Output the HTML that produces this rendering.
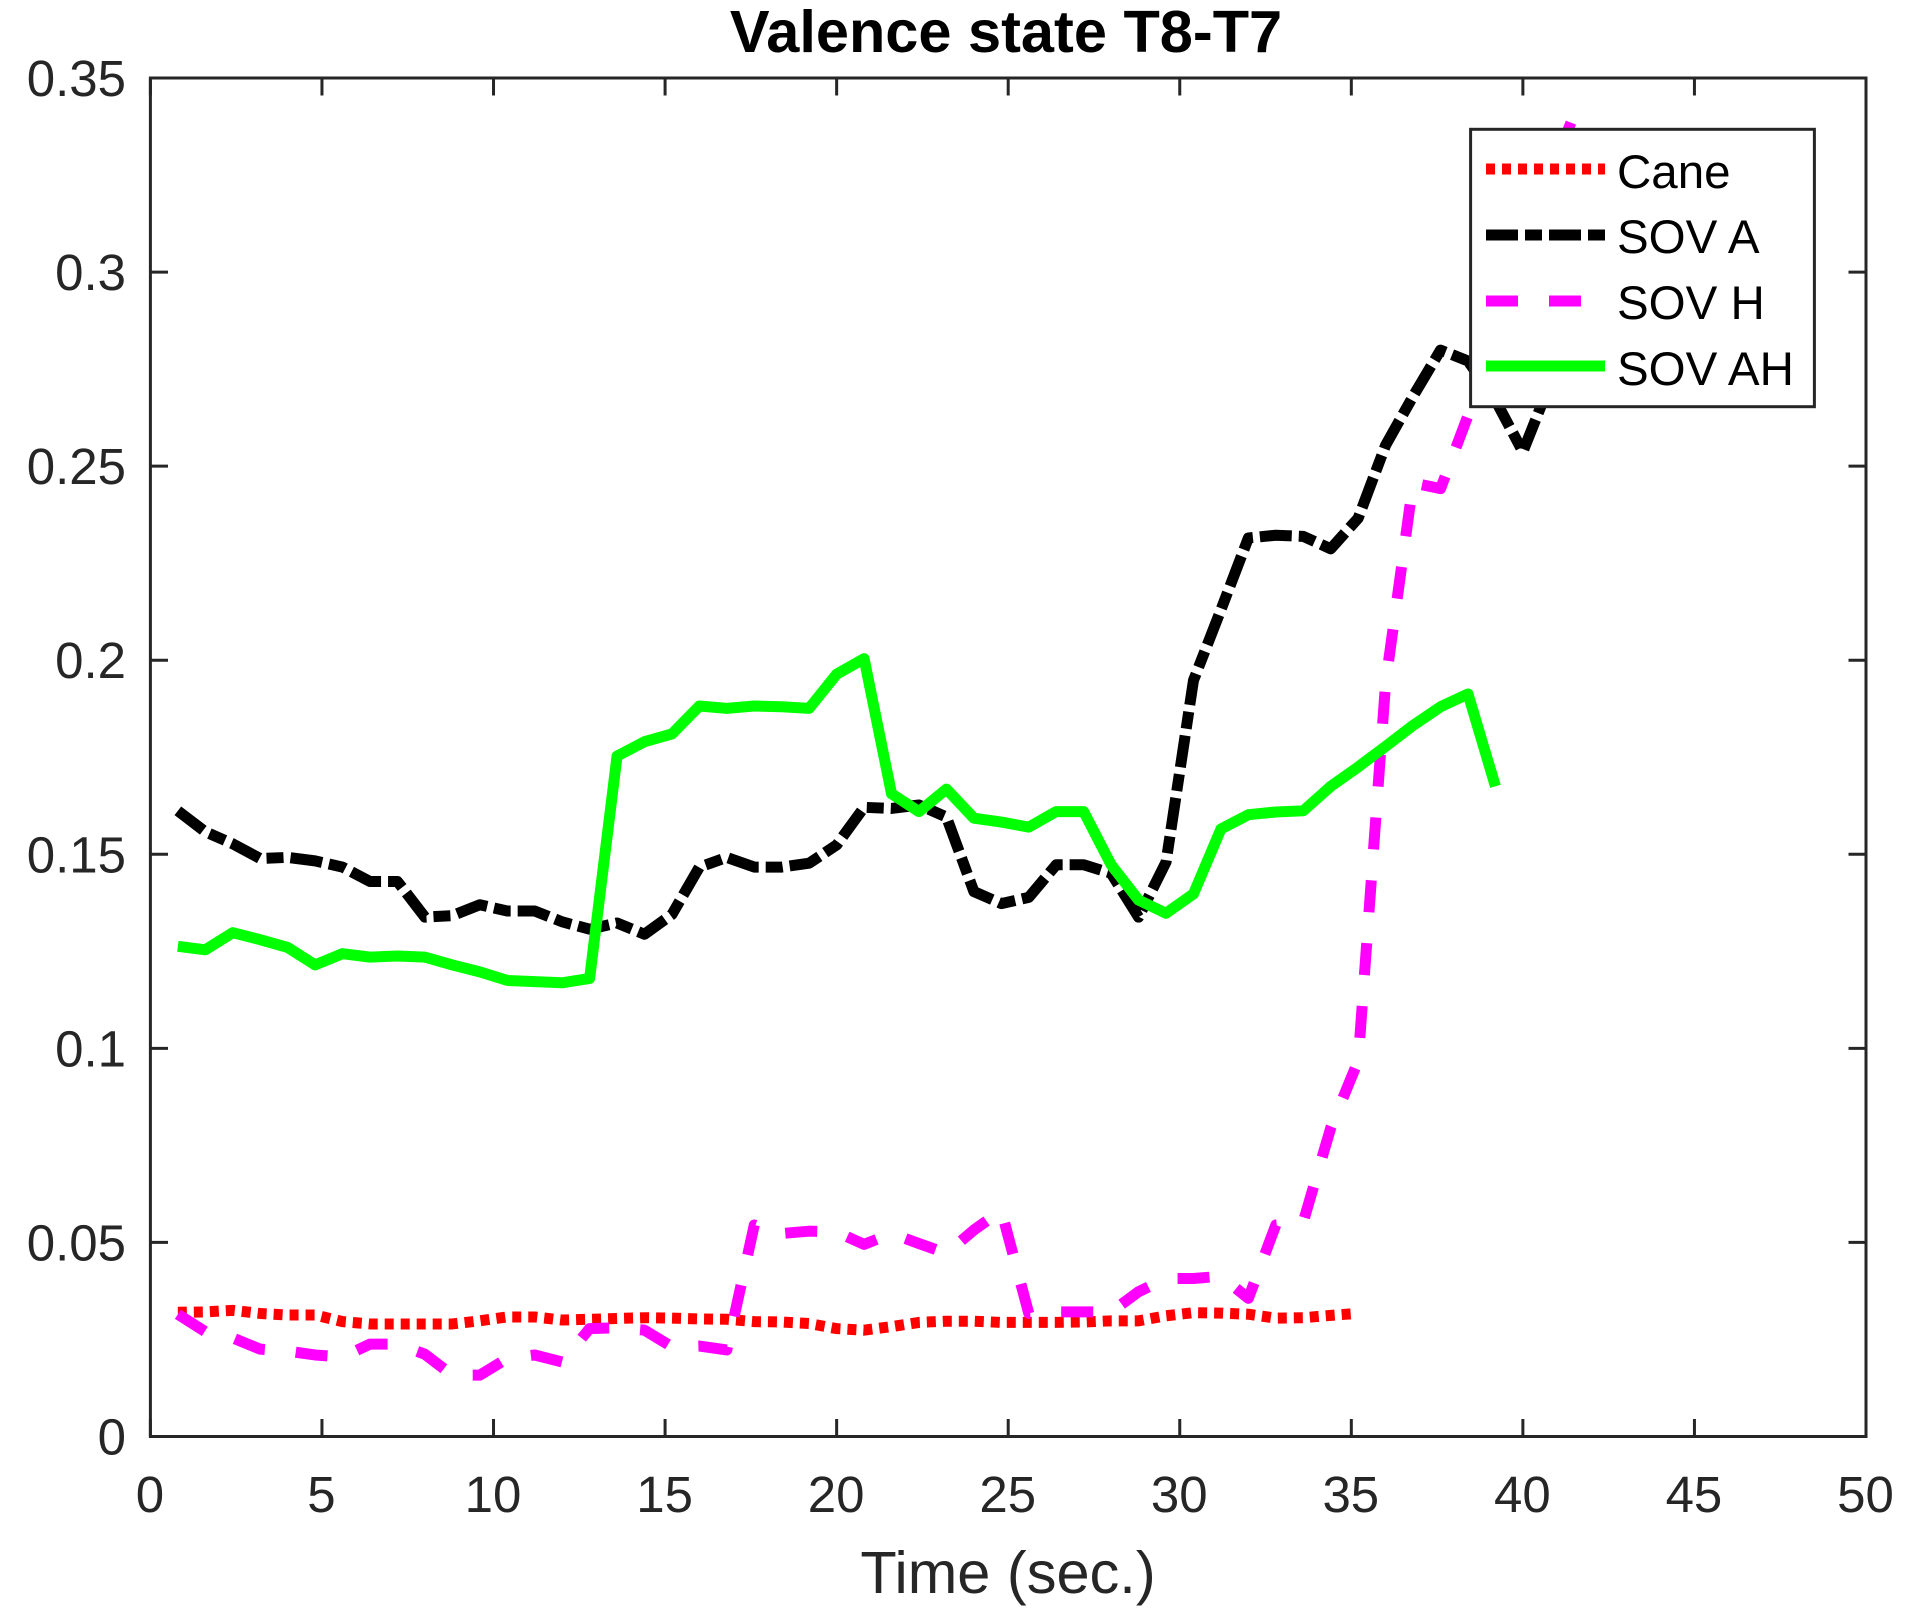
<!DOCTYPE html>
<html lang="en">
<head>
<meta charset="utf-8">
<title>Valence state T8-T7</title>
<style>
html,body{margin:0;padding:0;background:#fff;}
#chart{display:block;width:1912px;height:1620px;font-family:"Liberation Sans",Arial,sans-serif;}
</style>
</head>
<body>
<svg id="chart" xmlns="http://www.w3.org/2000/svg" width="1912" height="1620" viewBox="0 0 1912 1620">
  <defs><clipPath id="plot-clip"><rect x="150.4" y="78" width="1715.6" height="1358.5"/></clipPath></defs>
  <rect x="0" y="0" width="1912" height="1620" fill="#ffffff"/>
  <g id="series-layer" clip-path="url(#plot-clip)"></g>
  <g id="axis-layer"></g>
  <text x="1006" y="52" text-anchor="middle" font-size="59.5" font-weight="bold" fill="#000">Valence state T8-T7</text>
  <text x="1008" y="1593" text-anchor="middle" font-size="59.5" fill="#262626">Time (sec.)</text>
  <g>
    <rect x="1470.6" y="129.3" width="343.8" height="277.4" fill="#fff" stroke="#262626" stroke-width="3"/>
    <g>
      <line x1="1486" x2="1605" y1="169" y2="169" stroke="#ff0000" stroke-width="11" stroke-dasharray="9 7"/>
      <text x="1617" y="188" font-size="47.5" fill="#000">Cane</text>
    </g>
    <g>
      <line x1="1486" x2="1605" y1="235" y2="235" stroke="#000" stroke-width="11" stroke-dasharray="32 7 17 7"/>
      <text x="1617" y="253" font-size="47.5" fill="#000">SOV A</text>
    </g>
    <g>
      <line x1="1486" x2="1605" y1="301" y2="301" stroke="#ff00ff" stroke-width="11" stroke-dasharray="32 31"/>
      <text x="1617" y="319" font-size="47.5" fill="#000">SOV H</text>
    </g>
    <g>
      <line x1="1486" x2="1605" y1="366" y2="366" stroke="#00ff00" stroke-width="11"/>
      <text x="1617" y="385" font-size="47.5" fill="#000">SOV AH</text>
    </g>
  </g>
</svg>
<script>
var xTickValues = [0,5,10,15,20,25,30,35,40,45,50];
var xTickLabels = ["0","5","10","15","20","25","30","35","40","45","50"];
var yTickValues = [0,0.05,0.1,0.15,0.2,0.25,0.3,0.35];
var yTickLabels = ["0","0.05","0.1","0.15","0.2","0.25","0.3","0.35"];

var timeSec = [0.8,1.6,2.4,3.2,4,4.8,5.6,6.4,7.2,8,8.8,9.6,10.4,11.2,12,12.8,13.6,14.4,15.2,16,16.8,17.6,18.4,19.2,20,20.8,21.6,22.4,23.2,24,24.8,25.6,26.4,27.2,28,28.8,29.6,30.4,31.2,32,32.8,33.6,34.4,35.2,36,36.8,37.6,38.4,39.2,40,40.8,41.4,42.4,43.2,44,44.8,45.5];
var caneTime = [0.8,1.6,2.4,3.2,4,4.8,5.6,6.4,7.2,8,8.8,9.6,10.4,11.2,12,12.8,13.6,14.4,15.2,16,16.8,17.6,18.4,19.2,20,20.8,21.6,22.4,23.2,24,24.8,25.6,26.4,27.2,28,28.8,29.6,30.4,31.2,32,32.8,33.6,34.4,35];

var caneValues = [0.032,0.0321,0.0325,0.0317,0.0313,0.0313,0.0296,0.029,0.029,0.029,0.029,0.0298,0.0308,0.0308,0.03,0.0302,0.0304,0.0306,0.0305,0.0303,0.0302,0.0296,0.0295,0.0291,0.0278,0.0274,0.0283,0.0294,0.0297,0.0297,0.0294,0.0294,0.0294,0.0295,0.0298,0.0298,0.0311,0.0319,0.0318,0.0315,0.0305,0.0306,0.0312,0.0316];
var sovAValues = [0.1612,0.1558,0.1527,0.1489,0.1492,0.1483,0.1467,0.143,0.143,0.1338,0.1342,0.137,0.1354,0.1354,0.1326,0.1307,0.1323,0.1294,0.1345,0.1467,0.1492,0.1467,0.1467,0.1477,0.1524,0.1621,0.1618,0.1627,0.1596,0.1404,0.1373,0.1389,0.1473,0.1473,0.1451,0.1338,0.148,0.1948,0.213,0.2315,0.2322,0.2319,0.2287,0.2366,0.2554,0.268,0.2799,0.2771,0.267,0.2537,0.2715,0.29,0.3,0.31,0.3,0.28,0.2645];
var sovHValues = [0.0315,0.027,0.0254,0.0225,0.022,0.021,0.0205,0.0238,0.0238,0.0212,0.0158,0.0158,0.0201,0.021,0.0192,0.0278,0.028,0.0274,0.0231,0.0233,0.0223,0.0545,0.0523,0.0529,0.0527,0.0495,0.0523,0.0497,0.0472,0.0532,0.0582,0.0317,0.0321,0.0321,0.0321,0.0373,0.0407,0.0407,0.0413,0.0356,0.0545,0.0553,0.0795,0.0968,0.1942,0.2457,0.2442,0.263,0.2844,0.3048,0.325,0.3385];
var sovAHValues = [0.1263,0.1254,0.1298,0.128,0.126,0.1215,0.1244,0.1235,0.1238,0.1235,0.1215,0.1197,0.1175,0.1172,0.1169,0.118,0.1753,0.179,0.181,0.1882,0.1876,0.1882,0.188,0.1876,0.1964,0.2004,0.1656,0.161,0.1668,0.1593,0.1583,0.157,0.161,0.161,0.1473,0.1382,0.1348,0.1398,0.1565,0.1602,0.1609,0.1612,0.1675,0.1725,0.1778,0.1832,0.188,0.1913,0.1675];

var SVG_NS = "http://www.w3.org/2000/svg";
function xScale(v){ return 150.4 + v * (1715.6 / 50); }
function yScale(v){ return 1436.5 - v * (1358.5 / 0.35); }
function make(tag, attrs, parent){
  var el = document.createElementNS(SVG_NS, tag);
  for (var k in attrs) { el.setAttribute(k, attrs[k]); }
  parent.appendChild(el);
  return el;
}
var axisLayer = document.getElementById("axis-layer");
var seriesLayer = document.getElementById("series-layer");
var axisColor = "#262626";

function drawSeries(name, times, values, color, dash){
  var pts = [];
  for (var i = 0; i < values.length; i++) {
    pts.push(xScale(times[i]).toFixed(2) + "," + yScale(values[i]).toFixed(2));
  }
  var line = make("polyline", {points: pts.join(" "), fill: "none", stroke: color, "stroke-width": 11, "stroke-linejoin": "round", "stroke-linecap": "butt"}, seriesLayer);
  
  
  if (dash) { line.setAttribute("stroke-dasharray", dash); }
}
drawSeries("series-cane", caneTime, caneValues, "#ff0000", "9 7");
drawSeries("series-sov-a", timeSec, sovAValues, "#000000", "32 7 17 7");
drawSeries("series-sov-h", timeSec, sovHValues, "#ff00ff", "32 31");
drawSeries("series-sov-ah", timeSec, sovAHValues, "#00ff00", null);

var frame = make("rect", {x: 150.4, y: 78, width: 1715.6, height: 1358.5, fill: "none", stroke: axisColor, "stroke-width": 3}, axisLayer);



xTickValues.forEach(function(v, i){
  var x = xScale(v);
  var bottomTick = make("line", {x1: x, x2: x, y1: 1436.5, y2: 1419, stroke: axisColor, "stroke-width": 3}, axisLayer);
  
  
  var topTick = make("line", {x1: x, x2: x, y1: 78, y2: 95.5, stroke: axisColor, "stroke-width": 3}, axisLayer);
  
  
  var label = make("text", {x: x - 0.5, y: 1512, "text-anchor": "middle", "font-size": 51, fill: axisColor}, axisLayer);
  
  
  label.textContent = xTickLabels[i];
});
yTickValues.forEach(function(v, i){
  var y = yScale(v);
  var leftTick = make("line", {x1: 150.4, x2: 168, y1: y, y2: y, stroke: axisColor, "stroke-width": 3}, axisLayer);
  
  
  var rightTick = make("line", {x1: 1866, x2: 1848.5, y1: y, y2: y, stroke: axisColor, "stroke-width": 3}, axisLayer);
  
  
  var label = make("text", {x: 126, y: y + 18, "text-anchor": "end", "font-size": 51, fill: axisColor}, axisLayer);
  
  
  label.textContent = yTickLabels[i];
});
</script>
</body>
</html>
